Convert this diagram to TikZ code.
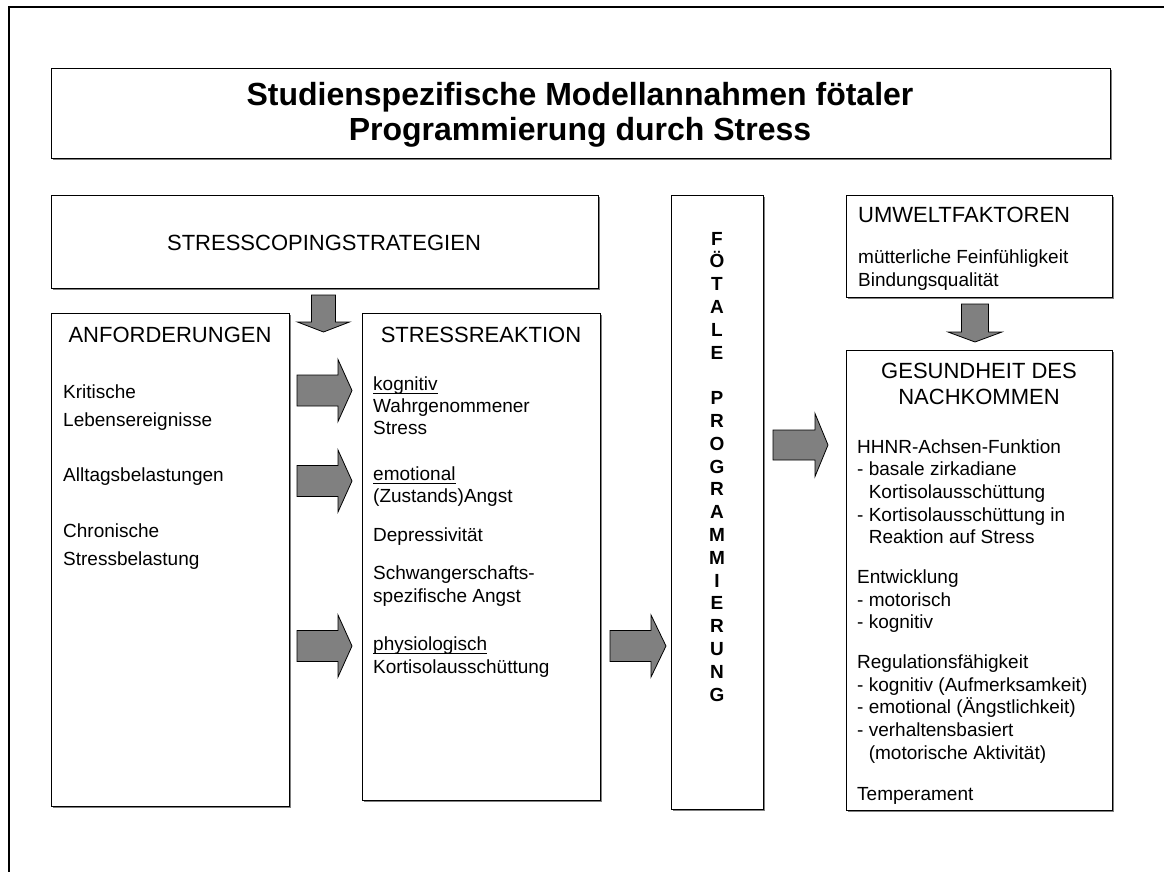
\documentclass[tikz,border=0pt]{standalone}
\usepackage{fontspec}
\setmainfont{Liberation Sans}
\usetikzlibrary{shadows,calc}
\definecolor{arrowgray}{HTML}{808080}
\newcommand\ulx[1]{\setbox0\hbox{#1}\rlap{\rule[-3.5bp]{\wd0}{1bp}}#1}
\newcommand\rarr[5]{\filldraw[fat] (#1) ++(0,-#4) -- ++(#2,0) -- ++(0,#4-#5) -- ++(#3,#5) -- ++(-#3,#5) -- ++(0,#4-#5) -- ++(-#2,0) -- cycle;}
\newcommand\darr[5]{\filldraw[fat] (#1) ++(-#4,0) -- ++(0,#2) -- ++(#4-#5,0) -- ++(#5,#3) -- ++(#5,-#3) -- ++(#4-#5,0) -- ++(0,-#2) -- cycle;}
\begin{document}
\begin{tikzpicture}[x=1bp,y=-1bp,
  box/.style={draw=black, line width=1bp, fill=white, anchor=north west, inner sep=0,
    drop shadow={shadow xshift=1.5bp, shadow yshift=-1.5bp, fill=black!50, opacity=1}},
  ttl/.style={inner sep=0, anchor=base, font=\fontsize{32bp}{34bp}\selectfont\bfseries},
  hdr/.style={inner sep=0, anchor=base, font=\fontsize{22bp}{26bp}\selectfont},
  hdrl/.style={inner sep=0, anchor=base west, font=\fontsize{22bp}{26bp}\selectfont},
  txt/.style={inner sep=0, anchor=base west, font=\fontsize{19bp}{22.8bp}\selectfont},
  vl/.style={inner sep=0, anchor=base, font=\fontsize{19bp}{22.8bp}\selectfont\bfseries},
  fat/.style={fill=arrowgray, draw=black, line width=0.8bp, line join=miter},
  frame/.style={draw=black, line width=2.5bp}]
\useasboundingbox (0,0) rectangle (1164,872);
% outer frame (cropped page border)
\coordinate (fa) at (1164,7);
\coordinate (fb) at (9,7);
\coordinate (fc) at (9,872);
\draw[frame] (fa) -- (fb) -- (fc);

% boxes
\node[box, minimum width=1059.5bp, minimum height=90bp] (title) at (50.5,68) {};
\node[box, minimum width=547.5bp, minimum height=93bp] (cope) at (50.5,195) {};
\node[box, minimum width=238.5bp, minimum height=493bp] (anf) at (50.5,313) {};
\node[box, minimum width=238bp, minimum height=487bp] (reak) at (362,313) {};
\node[box, minimum width=92bp, minimum height=614bp] (foet) at (671,195) {};
\node[box, minimum width=266bp, minimum height=102bp] (umw) at (846,195) {};
\node[box, minimum width=266bp, minimum height=460bp] (ges) at (846,350) {};

% title
\node[ttl] (t1) at (580,105) {Studienspezifische Modellannahmen fötaler};
\node[ttl] (t2) at (580,140) {Programmierung durch Stress};

% stresscoping
\node[hdr] (copet) at (324,250) {STRESSCOPINGSTRATEGIEN};

% Anforderungen
\node[hdr] (anfh) at (170,342) {ANFORDERUNGEN};
\node[txt] (an1) at (63,398) {Kritische};
\node[txt] (an2) at (63,426) {Lebensereignisse};
\node[txt] (an3) at (63,481) {Alltagsbelastungen};
\node[txt] (an4) at (63,537) {Chronische};
\node[txt] (an5) at (63,565) {Stressbelastung};

% Stressreaktion
\node[hdr] (reakh) at (481,342) {STRESSREAKTION};
\node[txt] (r1) at (373,390) {\ulx{kognitiv}};
\node[txt] (r2) at (373,412) {Wahrgenommener};
\node[txt] (r3) at (373,434) {Stress};
\node[txt] (r4) at (373,480) {\ulx{emotional}};
\node[txt] (r5) at (373,502) {(Zustands)Angst};
\node[txt] (r6) at (373,541) {Depressivität};
\node[txt] (r7) at (373,579) {Schwangerschafts-};
\node[txt] (r8) at (373,602) {spezifische Angst};
\node[txt] (r9) at (373,650) {\ulx{physiologisch}};
\node[txt] (r10) at (373,673) {Kortisolausschüttung};

% Foetale Programmierung (vertical letters)
\foreach \l [count=\i from 0] in {F,Ö,T,A,L,E,{},P,R,O,G,R,A,M,M,I,E,R,U,N,G}
  \node[vl] (fl\i) at (717,245+22.8*\i) {\l};

% Umweltfaktoren
\node[hdrl] (umwh) at (858,222) {UMWELTFAKTOREN};
\node[txt] (u1) at (858,263) {mütterliche Feinfühligkeit};
\node[txt] (u2) at (858,286) {Bindungsqualität};

% Gesundheit
\node[hdr] (gesh1) at (979,378) {GESUNDHEIT DES};
\node[hdr] (gesh2) at (979,404) {NACHKOMMEN};
\node[txt] (g1) at (857,453) {HHNR-Achsen-Funktion};
\node[txt] (g2) at (857,475.5) {- basale zirkadiane};
\node[txt] (g3) at (857,498) {\hphantom{- }Kortisolausschüttung};
\node[txt] (g4) at (857,521) {- Kortisolausschüttung in};
\node[txt] (g5) at (857,543.5) {\hphantom{- }Reaktion auf Stress};
\node[txt] (g6) at (857,583) {Entwicklung};
\node[txt] (g7) at (857,606) {- motorisch};
\node[txt] (g8) at (857,628.5) {- kognitiv};
\node[txt] (g9) at (857,668) {Regulationsfähigkeit};
\node[txt] (g10) at (857,691) {- kognitiv (Aufmerksamkeit)};
\node[txt] (g11) at (857,713.5) {- emotional (Ängstlichkeit)};
\node[txt] (g12) at (857,736) {- verhaltensbasiert};
\node[txt] (g13) at (857,759) {\hphantom{- }(motorische Aktivität)};
\node[txt] (g14) at (857,800) {Temperament};

% block arrows
\coordinate (d1) at (323.5,295);
\darr{d1}{27}{10}{12}{26}
\coordinate (a1) at (297,390.5);
\rarr{a1}{41}{14}{15.5}{31}
\coordinate (a2) at (297,481);
\rarr{a2}{41}{14}{15.5}{31}
\coordinate (a3) at (297,646);
\rarr{a3}{41}{14}{15.5}{31}
\coordinate (a4) at (610,646);
\rarr{a4}{41}{15}{15.5}{31}
\coordinate (a5) at (773,445);
\rarr{a5}{42}{13}{15}{31.5}
\coordinate (d2) at (975,304);
\darr{d2}{28}{10}{13.5}{27}
\end{tikzpicture}
\end{document}
